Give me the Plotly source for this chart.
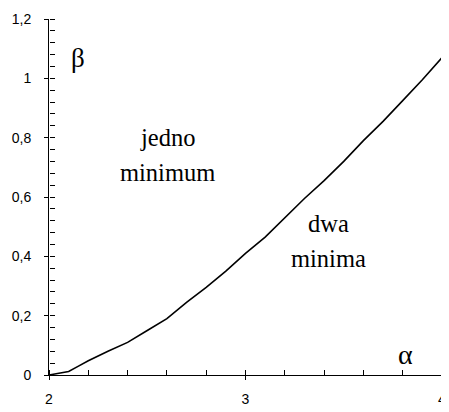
import plotly.graph_objects as go

alpha = [2.0, 2.05, 2.1, 2.15, 2.2, 2.3, 2.4, 2.5, 2.6, 2.7, 2.8, 2.9, 3.0,
         3.1, 3.2, 3.3, 3.4, 3.5, 3.6, 3.7, 3.8, 3.9, 4.0]
beta = [0.0, 0.005, 0.012, 0.03, 0.048, 0.08, 0.11, 0.15, 0.19, 0.245, 0.295,
        0.35, 0.41, 0.465, 0.53, 0.595, 0.655, 0.72, 0.79, 0.855, 0.925, 0.995, 1.07]

x_range = [2, 4]
y_range = [0, 1.2]

fig = go.Figure()
fig.add_trace(go.Scatter(x=alpha, y=beta, mode="lines",
                         line=dict(color="black", width=1.6),
                         showlegend=False, hoverinfo="skip"))
# invisible copies so the tick-only overlay axes get drawn
for xa, ya in (("x2", "y2"), ("x3", "y3")):
    fig.add_trace(go.Scatter(x=alpha, y=beta, xaxis=xa, yaxis=ya, mode="lines",
                             line=dict(color="rgba(0,0,0,0)", width=0),
                             showlegend=False, hoverinfo="skip"))

serif = "Times New Roman, Liberation Serif, Tinos, serif"
sans = "Arial, Liberation Sans, sans-serif"

def inner_x(dtick, ln):
    return dict(range=x_range, dtick=dtick, tick0=2, overlaying="x", anchor="free",
                position=0, side="top", showgrid=False, zeroline=False, showline=False,
                ticks="outside", ticklen=ln, tickcolor="black", tickwidth=1,
                showticklabels=False)

def inner_y(dtick, ln):
    return dict(range=y_range, dtick=dtick, tick0=0, overlaying="y", anchor="free",
                position=0, side="right", showgrid=False, zeroline=False, showline=False,
                ticks="outside", ticklen=ln, tickcolor="black", tickwidth=1,
                showticklabels=False)

# page body has an 8px margin, so the figure is sized to fill the rest of the window
fig.update_layout(
    width=441, height=404,
    margin=dict(l=41, r=3, t=9, b=37, pad=0),
    paper_bgcolor="white", plot_bgcolor="white",
    separators=", ",
    font=dict(family=serif, size=24.5, color="black"),
    xaxis=dict(range=x_range, dtick=1, tick0=2, showgrid=False, zeroline=False,
               showline=True, linecolor="black", linewidth=1,
               ticks="outside", ticklen=4, tickcolor="black", tickwidth=1,
               ticklabeloverflow="allow", ticklabelstandoff=7,
               tickfont=dict(family=sans, size=14, color="black")),
    yaxis=dict(range=y_range, dtick=0.2, tick0=0, showgrid=False, zeroline=False,
               showline=True, linecolor="black", linewidth=1,
               ticks="outside", ticklen=4, tickcolor="black", tickwidth=1,
               ticklabeloverflow="allow", ticklabelstandoff=10,
               tickfont=dict(family=sans, size=14, color="black")),
    xaxis2=inner_x(0.2, 5),
    yaxis2=inner_y(0.04, 5),
    xaxis3=inner_x(1, 4),
    yaxis3=inner_y(0.2, 4),
    annotations=[
        dict(x=2.146, y=1.07, text="β", showarrow=False, font=dict(size=27)),
        dict(x=3.815, y=0.07, text="α", showarrow=False, font=dict(size=28)),
        dict(x=2.605, y=0.80, text="jedno", showarrow=False),
        dict(x=2.605, y=0.683, text="minimum", showarrow=False),
        dict(x=3.42, y=0.51, text="dwa", showarrow=False),
        dict(x=3.42, y=0.393, text="minima", showarrow=False),
    ],
)

fig.write_html("out.html")
